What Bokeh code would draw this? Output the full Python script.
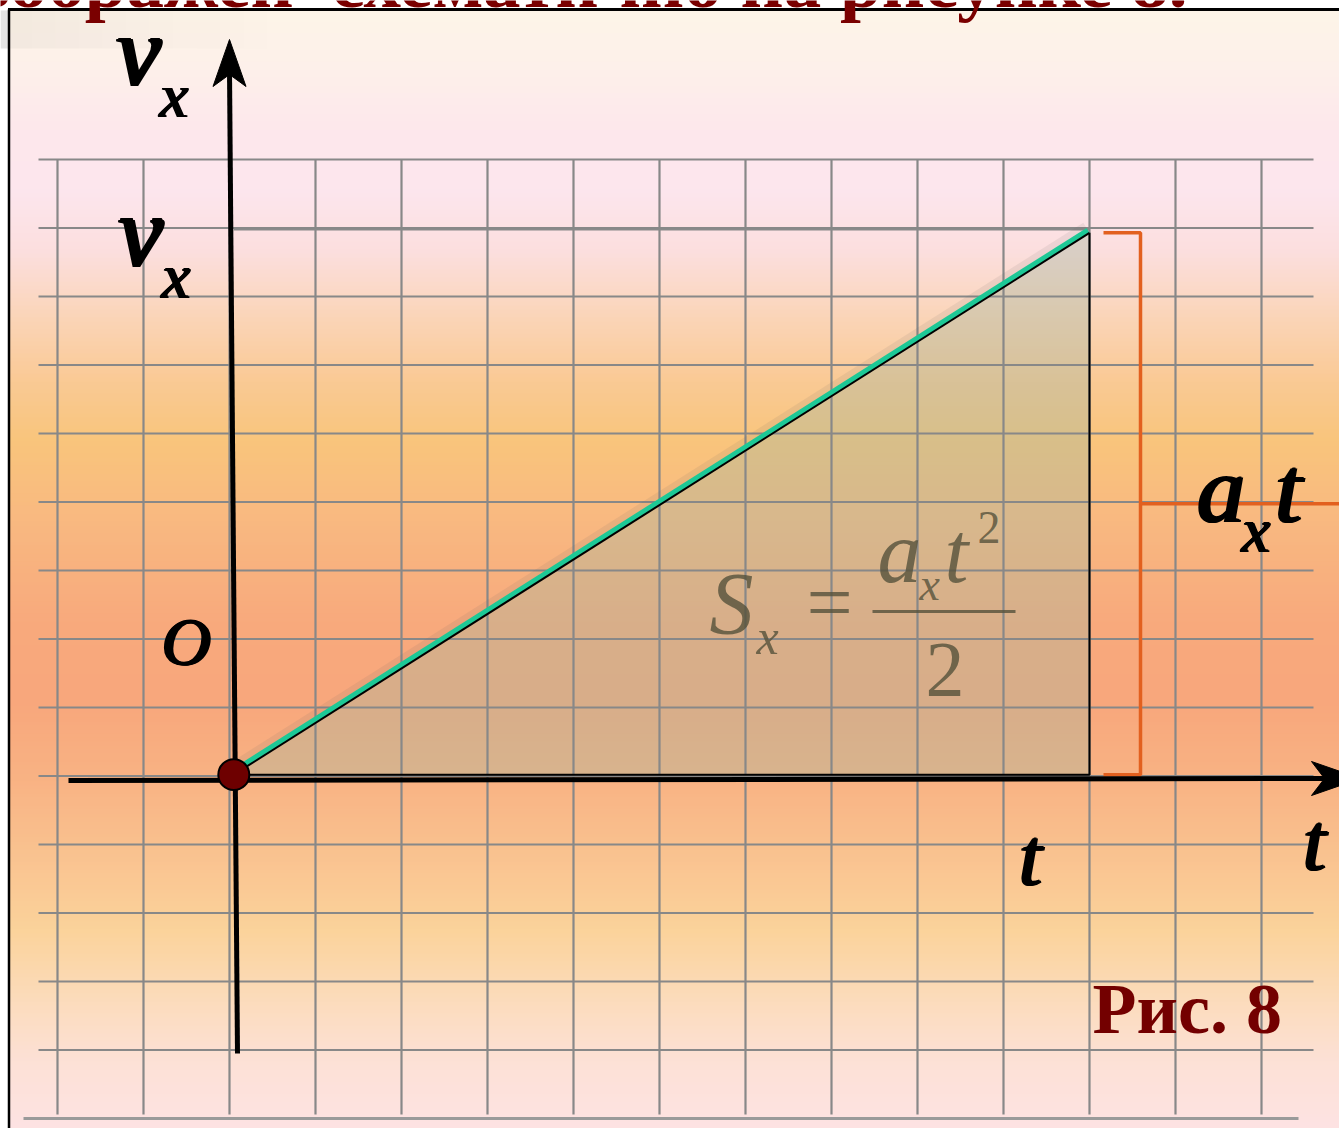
import numpy as np
from bokeh.plotting import figure
from bokeh.models import Range1d, Label
from bokeh.embed import file_html
from bokeh.resources import INLINE

# ---------------- data ----------------
t_values = [0.05, 10.0]        # t  (grid cells): start, end of motion
v_values = [0.02, 7.93]        # v_x (grid cells): start, end
grid_cols = list(range(-2, 13))
grid_rows = list(range(-4, 10))
title_text = "изображен\u00a0\u00a0схематично на рисунке 8."
caption_text = "Рис. 8"

# ---------------- layout (reference pixels) ----------------
W, H = 1339, 1128
X0, Y0 = 229.0, 775.5      # pixel position of grid (0, 0)
SX, SY = 86.0, 68.5        # pixels per grid cell
MID = 0.3375               # baseline offset of a "middle"-anchored text, in em


def gx(px):
    return (px - X0) / SX


def gy(py):
    return (Y0 - py) / SY


p = figure(width=W, height=H, output_backend="svg", toolbar_location=None,
           x_range=Range1d(gx(0), gx(W)), y_range=Range1d(gy(H), gy(0)),
           min_border=0, x_axis_location=None, y_axis_location=None)
p.grid.visible = False
p.outline_line_color = None
p.background_fill_color = "white"
p.border_fill_color = "white"

# ---------------- background gradient ----------------
stop_y = [9, 60, 130, 190, 250, 310, 380, 440, 520, 620, 700, 780, 860, 930, 1000, 1060, 1128]
stop_c = ["#fef5e8", "#fdf1ea", "#fde8ec", "#fde6ee", "#fcdfdf", "#fbd6bc", "#faca95",
          "#f9c57c", "#f9b981", "#f8aa7d", "#f8a77c", "#f9b384", "#fac491", "#fbd39b",
          "#fcdcbc", "#fde1d6", "#fde3e3"]
rgb = np.array([[int(c[i:i + 2], 16) for i in (1, 3, 5)] for c in stop_c], dtype=float)
band_top = np.arange(9, 1128, 4)
cols = []
for yy in band_top + 2:
    r, g, b = (np.interp(yy, stop_y, rgb[:, k]) for k in range(3))
    cols.append("#%02x%02x%02x" % (int(r), int(g), int(b)))
p.quad(left=gx(8), right=gx(W), top=gy(band_top), bottom=gy(band_top + 5),
       fill_color=cols, line_color=None)

# slide shadow at top-left (fading to the right)
p.quad(left=gx(0), right=gx(8), top=gy(10), bottom=gy(48), fill_color="#e4e4e4", line_color=None)
sh_edges = np.linspace(8, 290, 13)
sh_alpha = np.linspace(0.08, 0.0, 12)
p.quad(left=gx(sh_edges[:-1]), right=gx(sh_edges[1:]), top=gy(10), bottom=gy(48),
       fill_color="#808080", fill_alpha=sh_alpha, line_color=None)

# frame lines (top + left)
p.line(x=[gx(7.5), gx(W)], y=[gy(9), gy(9)], line_color="black", line_width=3)
p.line(x=[gx(8.5), gx(8.5)], y=[gy(9), gy(H)], line_color="black", line_width=2.5)

# ---------------- shaded triangle (area under v(t)) ----------------
p.patch(x=[t_values[0], t_values[1], t_values[1]],
        y=[v_values[0], v_values[0], v_values[1]],
        fill_color="#a7b79e", fill_alpha=0.40, line_color=None)

# ---------------- graph-paper grid ----------------
p.segment(x0=grid_cols, x1=grid_cols, y0=[grid_rows[-1]] * len(grid_cols),
          y1=[gy(1114)] * len(grid_cols), line_color="#888888", line_width=2.2)
p.segment(x0=[gx(38)] * len(grid_rows), x1=[gx(1313)] * len(grid_rows),
          y0=grid_rows, y1=grid_rows, line_color="#888888", line_width=2.2)
p.line(x=[gx(23), gx(1298)], y=[gy(1118), gy(1118)], line_color="#9a9a9a", line_width=3)

# horizontal projection of v_x
p.line(x=[t_values[0], t_values[1]], y=[v_values[1] + 3 / SY] * 2,
       line_color="#8a8a8a", line_width=1.5)

# triangle edges
p.line(x=[t_values[0], t_values[1], t_values[1]],
       y=[v_values[0], v_values[0], v_values[1]], line_color="black", line_width=2)

# ---------------- v(t) line ----------------
p.line(x=[t - 3 / SX for t in t_values], y=[v + 5 / SY for v in v_values],
       line_color="#666666", line_alpha=0.10, line_width=12)
p.line(x=[t - 1.4 / SX for t in t_values], y=[v + 2.3 / SY for v in v_values],
       line_color="#1dc896", line_width=6)
p.line(x=t_values, y=v_values, line_color="black", line_width=2)

# ---------------- orange bracket a_x t ----------------
bx0 = t_values[1] + 14 / SX
bx1 = t_values[1] + 51 / SX
vmid = (v_values[0] + v_values[1]) / 2
p.line(x=[bx0, bx1, bx1, bx0], y=[v_values[1], v_values[1], v_values[0], v_values[0]],
       line_color="#e2601f", line_width=3.5)
p.line(x=[bx1, gx(W)], y=[vmid, vmid], line_color="#e2601f", line_width=3.5)

# ---------------- axes ----------------
# t axis
p.line(x=[gx(68), gx(1330)], y=[gy(780), gy(778)], line_color="black", line_width=5)
p.patch(x=[gx(1360), gx(1311), gx(1324), gx(1311)],
        y=[gy(778), gy(761), gy(778), gy(795)], fill_color="black", line_color="black")
# v axis (slightly tilted as in the drawing)
p.line(x=[gx(229), gx(237)], y=[gy(70), gy(1053)], line_color="black", line_width=5)
p.patch(x=[gx(229), gx(245.5), gx(229), gx(212.5)],
        y=[gy(39), gy(86), gy(74), gy(86)], fill_color="black", line_color="black")

# origin point
p.scatter(x=[t_values[0]], y=[v_values[0]], size=31, fill_color="#6e0000",
          line_color="black", line_width=2)


# ---------------- texts ----------------
def txt(s, x_px, base_px, size, style="normal", color="black", align="left",
        alpha=1.0, dx=0.0, dy=0.0):
    """Text whose alphabetic baseline sits at reference pixel row base_px."""
    p.add_layout(Label(x=gx(x_px), y=gy(base_px - MID * size), text=s,
                       text_font="Liberation Serif", text_font_size=f"{size}px",
                       text_font_style=style, text_color=color, text_alpha=alpha,
                       text_align=align, text_baseline="middle",
                       x_offset=dx, y_offset=dy))


def btxt(s, x_px, base_px, size, color="black"):
    """Bold italic look: italic face drawn with a small horizontal smear."""
    d = size * 0.04
    for ox, oy in [(0.0, 0.0), (d / 3, 0.0), (2 * d / 3, 0.0), (d, 0.0), (d / 2, d * 0.3)]:
        txt(s, x_px, base_px, size, style="italic", color=color, dx=ox, dy=oy)


def ypx(v):
    return Y0 - v * SY


def xpx(t):
    return X0 + t * SX


# title of the slide (cut by the top edge)
txt(title_text, 1187, 6.5, 75, style="bold", color="#7a0000", align="right")

# caption
txt(caption_text, 1092, 1033, 72, style="bold", color="#730000")

# area formula
fc, fa = "#55513b", 0.8
txt("S", 709, 633, 88, style="italic", color=fc, alpha=fa)
txt("x", 756, 653, 50, style="italic", color=fc, alpha=fa)
txt("=", 806, 630, 82, style="normal", color=fc, alpha=fa)
p.line(x=[gx(872), gx(1015)], y=[gy(611), gy(611)], line_color=fc, line_alpha=fa, line_width=3)
txt("a", 877, 582, 88, style="italic", color=fc, alpha=fa)
txt("x", 919, 600, 46, style="italic", color=fc, alpha=fa)
txt("t", 944, 582, 86, style="italic", color=fc, alpha=fa)
txt("2", 977, 543, 46, style="normal", color=fc, alpha=fa)
txt("2", 925, 695, 78, style="normal", color=fc, alpha=fa)

# axis names
btxt("v", 114, 85, 100)
btxt("x", 158, 117, 64)
btxt("t", 1301, 870, 82)
btxt("O", 160, 664, 68)

# value labels (anchored to the data values)
btxt("v", 116, ypx(v_values[1]) + 33, 100)
btxt("x", 160, ypx(v_values[1]) + 65, 64)
btxt("t", xpx(t_values[1]) - 72, 885, 82)
btxt("a", 1195, ypx(vmid) + 18, 95)
btxt("x", 1240, ypx(vmid) + 48, 64)
btxt("t", 1273, ypx(vmid) + 18, 95)

open("out.html", "w").write(file_html(p, INLINE))
